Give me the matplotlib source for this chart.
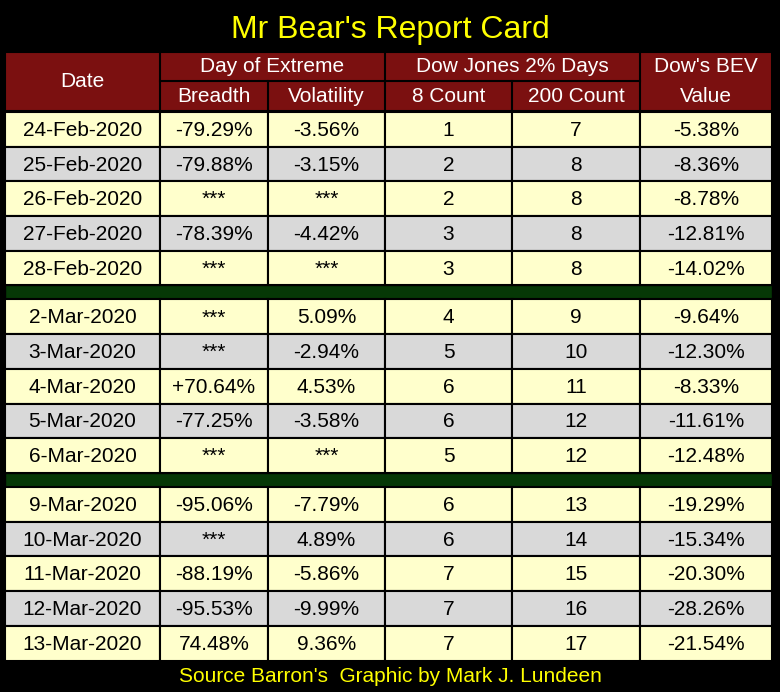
import matplotlib
matplotlib.use("Agg")
import matplotlib.pyplot as plt
from matplotlib.patches import Rectangle

plt.rcParams['font.family'] = ['Liberation Sans', 'DejaVu Sans']

title = "Mr Bear's Report Card"
footer = "Source Barron's  Graphic by Mark J. Lundeen"

dates = ["24-Feb-2020", "25-Feb-2020", "26-Feb-2020", "27-Feb-2020", "28-Feb-2020",
         "2-Mar-2020", "3-Mar-2020", "4-Mar-2020", "5-Mar-2020", "6-Mar-2020",
         "9-Mar-2020", "10-Mar-2020", "11-Mar-2020", "12-Mar-2020", "13-Mar-2020"]
breadth = ["-79.29%", "-79.88%", "***", "-78.39%", "***",
           "***", "***", "+70.64%", "-77.25%", "***",
           "-95.06%", "***", "-88.19%", "-95.53%", "74.48%"]
volatility = ["-3.56%", "-3.15%", "***", "-4.42%", "***",
              "5.09%", "-2.94%", "4.53%", "-3.58%", "***",
              "-7.79%", "4.89%", "-5.86%", "-9.99%", "9.36%"]
count8 = [1, 2, 2, 3, 3, 4, 5, 6, 6, 5, 6, 6, 7, 7, 7]
count200 = [7, 8, 8, 8, 8, 9, 10, 11, 12, 12, 13, 14, 15, 16, 17]
bev = ["-5.38%", "-8.36%", "-8.78%", "-12.81%", "-14.02%",
       "-9.64%", "-12.30%", "-8.33%", "-11.61%", "-12.48%",
       "-19.29%", "-15.34%", "-20.30%", "-28.26%", "-21.54%"]

# column edges in pixels
cols = [5, 160, 268, 385, 512, 640, 772]
yellow, grey, maroon, green = "#ffffcc", "#d9d9d9", "#7b1010", "#063806"

fig = plt.figure(figsize=(7.8, 6.92), dpi=100, facecolor="black")
ax = fig.add_axes([0, 0, 1, 1])
ax.set_xlim(0, 780)
ax.set_ylim(692, 0)
ax.axis("off")

ax.text(390, 30, title, color="#ffff00", fontsize=23, ha="center", va="center")

# header
hy0, hy1, hy2 = 52, 81, 111
ax.add_patch(Rectangle((cols[0], hy0), cols[-1] - cols[0], hy2 - hy0, fc=maroon, ec="black", lw=1.5))
for x in (cols[1], cols[3], cols[5]):
    ax.plot([x, x], [hy0, hy2], color="black", lw=1.5)
for x in (cols[2], cols[4]):
    ax.plot([x, x], [hy1, hy2], color="black", lw=1.5)
ax.plot([cols[1], cols[5]], [hy1, hy1], color="black", lw=1.5)
hfs = 15
ax.text((cols[0] + cols[1]) / 2, (hy0 + hy2) / 2, "Date", color="white", fontsize=hfs, ha="center", va="center")
ax.text((cols[1] + cols[3]) / 2, (hy0 + hy1) / 2, "Day of Extreme", color="white", fontsize=hfs, ha="center", va="center")
ax.text((cols[3] + cols[5]) / 2, (hy0 + hy1) / 2, "Dow Jones 2% Days", color="white", fontsize=hfs, ha="center", va="center")
ax.text((cols[5] + cols[6]) / 2, (hy0 + hy1) / 2, "Dow's BEV", color="white", fontsize=hfs, ha="center", va="center")
for i, lab in enumerate(["Breadth", "Volatility", "8 Count", "200 Count", "Value"]):
    ax.text((cols[i + 1] + cols[i + 2]) / 2, (hy1 + hy2) / 2 + 1, lab, color="white", fontsize=hfs,
            ha="center", va="center")

# data rows: three groups of five with green bands between
row_h = 34.7
y = hy2 + 1
for i in range(len(dates)):
    if i in (5, 10):
        ax.add_patch(Rectangle((cols[0], y), cols[-1] - cols[0], 14, fc=green, ec="black", lw=1))
        y += 14
    fc = yellow if (i % 5) % 2 == 0 else grey
    vals = [dates[i], breadth[i], volatility[i], str(count8[i]), str(count200[i]), bev[i]]
    for j, v in enumerate(vals):
        ax.add_patch(Rectangle((cols[j], y), cols[j + 1] - cols[j], row_h, fc=fc, ec="black", lw=1.5))
        ax.text((cols[j] + cols[j + 1]) / 2, y + row_h / 2 + 1, v, color="black", fontsize=15,
                ha="center", va="center")
    y += row_h

ax.text(390, 676, footer, color="#ffff00", fontsize=15, ha="center", va="center")

fig.savefig("out.png", dpi=100, facecolor="black")
